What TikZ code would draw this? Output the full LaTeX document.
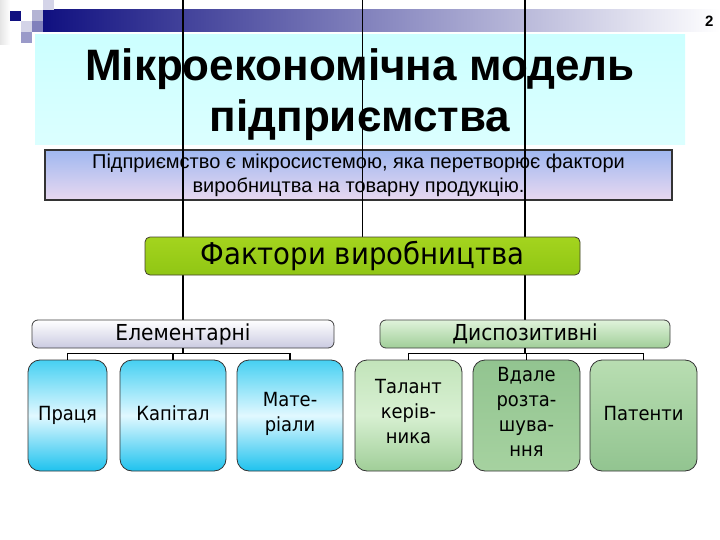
\documentclass[tikz,border=0pt]{standalone}
\usepackage{fontspec}
\setmainfont{Liberation Sans}
\newfontfamily\boxfont[FakeStretch=0.92]{DejaVu Sans}
\usetikzlibrary{calc}

\definecolor{navyband}{RGB}{16,16,128}
\definecolor{lavA}{RGB}{212,212,232}
\definecolor{lavB}{RGB}{180,180,212}
\definecolor{lavC}{RGB}{128,128,188}
\definecolor{cyanT}{RGB}{70,208,242}
\definecolor{cyanM}{RGB}{225,248,255}
\definecolor{cyanB}{RGB}{30,194,238}
\definecolor{limeT}{RGB}{164,212,30}
\definecolor{limeM}{RGB}{222,240,150}
\definecolor{limeB}{RGB}{144,198,20}
\definecolor{sageT}{RGB}{194,228,186}
\definecolor{sageM}{RGB}{216,240,210}
\definecolor{sageB}{RGB}{160,206,152}
\definecolor{mossT}{RGB}{146,196,144}
\definecolor{mossB}{RGB}{166,210,160}

\pgfdeclarelayer{bg}
\pgfdeclarelayer{lines}
\pgfsetlayers{bg,lines,main}

\tikzset{
  box/.style={draw=black!80, line width=0.8pt, rounded corners=12pt, align=center,
    inner sep=2pt, minimum height=111pt, font={\boxfont\fontsize{19.5}{25}\selectfont},
    execute at begin node=\strut, execute at end node=\strut},
  bluebox/.style={box, top color=cyanT, bottom color=cyanB, middle color=cyanM},
  greenbox/.style={box, top color=sageT, bottom color=sageB, middle color=sageM},
  head/.style={draw=black!75, line width=0.8pt, rounded corners=6pt, minimum height=28pt,
    inner sep=0pt, font={\boxfont\fontsize{22}{24}\selectfont}},
  trunk/.style={line width=1.8pt},
  branch/.style={line width=1.3pt},
}

\begin{document}
\begin{tikzpicture}[x=1pt, y=-1pt]
  \useasboundingbox (0,0) rectangle (720,540);

  \begin{pgfonlayer}{bg}
    \fill[white] (0,0) rectangle (720,540);
    % slide header
    \shade[left color=black!10, right color=white] (0,0) rectangle (10,45);
    \shade[left color=navyband, middle color=navyband!60!white, right color=white] (43,10) rectangle (720,32);
    \fill[navyband] (10,11) rectangle (21,21);
    \fill[lavB] (32,10) rectangle (43,21);
    \fill[lavA] (43,0) rectangle (54,10);
    \fill[lavA] (21,21) rectangle (32,32);
    \fill[lavC] (32,21) rectangle (43,32);
    \fill[lavC!80!white] (21,32) rectangle (32,43);
    \node[font=\bfseries\fontsize{15}{17}\selectfont, anchor=east] (page) at (717,21) {2};
    \shade[top color=cyan!20, middle color=cyan!6, bottom color=cyan!14] (35,35) rectangle (685,145);
    \node[align=center, font=\bfseries\fontsize{44}{51}\selectfont] (title) at (360,95)
      {Мікроекономічна модель\\підприємства};

    \node[draw=black!80, line width=1.2pt, minimum width=627pt, minimum height=50pt,
      top color={rgb,255:red,160;green,184;blue,240}, middle color=white,
      bottom color={rgb,255:red,232;green,216;blue,240}, align=center,
      font=\fontsize{20}{24}\selectfont] (intro) at (358.5,175)
      {Підприємство є мікросистемою, яка перетворює фактори\\виробництва на товарну продукцію.};
  \end{pgfonlayer}

  % factors
  \node[draw=black!70!olive, line width=0.8pt, rounded corners=5pt, minimum width=435pt,
    minimum height=38pt, top color=limeT, middle color=limeM, bottom color=limeB,
    font={\boxfont\fontsize{30}{32}\selectfont}] (fact) at (362.5,256) {Фактори виробництва};

  \node[head, minimum width=302pt, top color=white, bottom color=lavB!70!white] (elem) at (183,334) {Елементарні};
  \node[head, minimum width=290pt, top color=sageM!80!white, bottom color=sageB] (disp) at (525,334) {Диспозитивні};

  % elementary factors
  \foreach \nm/\cx/\bw/\txt in {pr/67.5/79/Праця, kap/173/106/Капітал, mat/290/106/{Мате-\\ріали}}
    \node[bluebox, minimum width=\bw pt] (\nm) at (\cx,415.5) {\txt};

  % dispositive factors
  \node[greenbox, minimum width=107pt] (tal) at (408.5,415.5) {Талант\\керів-\\ника};
  \node[greenbox, minimum width=107pt, top color=mossT, middle color=sageT, bottom color=mossB] (loc) at (526.5,415.5) {Вдале\\розта-\\шува-\\ння};
  \node[greenbox, minimum width=107pt, top color=sageT!80!mossT, middle color=sageM!70!sageT, bottom color=mossT] (pat) at (643.5,415.5) {Патенти};

  \begin{pgfonlayer}{lines}
    \draw[trunk] (elem.north |- 0,0) coordinate (topL) -- (elem.north);
    \draw[trunk] (fact.north |- 0,0) coordinate (topM) -- (fact.north);
    \draw[trunk] (disp.north |- 0,0) coordinate (topR) -- (disp.north);
  \end{pgfonlayer}

  \coordinate (brL) at ($(elem.south)+(0,5)$);
  \coordinate (brR) at ($(disp.south)+(0,5)$);
  \draw[branch] (elem.south) -- (brL);
  \draw[branch] (pr.north) |- (brL) -| (mat.north);
  \draw[branch] (kap.north) -- (kap.north |- brL);
  \draw[branch] (disp.south) -- (brR);
  \draw[branch] (tal.north) |- (brR) -| (pat.north);
  \draw[branch] (loc.north) -- (loc.north |- brR);
\end{tikzpicture}
\end{document}
